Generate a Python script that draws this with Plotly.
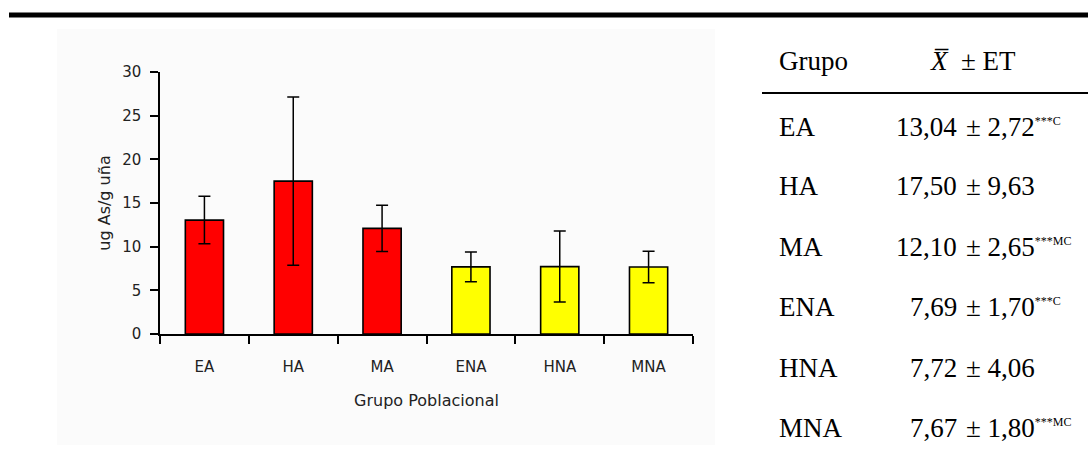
import plotly.graph_objects as go

W, H = 1088, 450

groups = ["EA", "HA", "MA", "ENA", "HNA", "MNA"]
means = [13.04, 17.50, 12.10, 7.69, 7.72, 7.67]
errors = [2.72, 9.63, 2.65, 1.70, 4.06, 1.80]
bar_colors = ["#FF0000", "#FF0000", "#FF0000", "#FFFF00", "#FFFF00", "#FFFF00"]
mean_labels = ["13,04", "17,50", "12,10", "7,69", "7,72", "7,67"]
err_labels = ["2,72", "9,63", "2,65", "1,70", "4,06", "1,80"]
sig_labels = ["***C", "", "***MC", "***C", "", "***MC"]
y_ticks = [0, 5, 10, 15, 20, 25, 30]


def px(x):
    return x / W


def py(y):
    return 1 - y / H


fig = go.Figure()
fig.add_trace(go.Bar(
    x=groups, y=means,
    marker=dict(color=bar_colors, line=dict(color="#000000", width=1.6)),
    width=0.43,
    error_y=dict(type="data", array=errors, visible=True, color="#000000",
                 thickness=1.5, width=6),
    showlegend=False,
))

sans = "DejaVu Sans, Arial, sans-serif"
serif = "Liberation Serif, Times New Roman, serif"

fig.update_layout(
    width=W, height=H,
    margin=dict(l=0, r=0, t=0, b=0, pad=0, autoexpand=False),
    paper_bgcolor="white",
    plot_bgcolor="rgba(0,0,0,0)",
    xaxis=dict(
        domain=[px(160), px(693)],
        type="category",
        automargin=False,
        showline=True, linecolor="#000000", linewidth=1.5,
        ticks="outside", tickson="boundaries", ticklen=8, tickwidth=1.5, tickcolor="#000000",
        tickfont=dict(family=sans, size=15, color="#222222"),
        ticklabelstandoff=18,
        showgrid=False, zeroline=False,
        title=dict(text="Grupo Poblacional", font=dict(family=sans, size=16, color="#222222"),
                   standoff=20),
        anchor="y",
    ),
    yaxis=dict(
        domain=[py(334), py(72)],
        range=[0, 30],
        tickvals=y_ticks,
        automargin=False,
        showline=True, linecolor="#000000", linewidth=1.5,
        ticks="outside", ticklen=8, tickwidth=1.5, tickcolor="#000000",
        tickfont=dict(family=sans, size=15, color="#222222"),
        ticklabelstandoff=6,
        showgrid=False, zeroline=False,
        title=dict(text="ug As/g uña", font=dict(family=sans, size=16, color="#222222"),
                   standoff=8),
    ),
)

shapes = [
    dict(type="rect", xref="paper", yref="paper", x0=px(57), x1=px(715), y0=py(445), y1=py(29),
         fillcolor="#FBFBFB", line=dict(width=0), layer="below"),
    dict(type="rect", xref="paper", yref="paper", x0=px(9), x1=px(1088), y0=py(17.5), y1=py(12.5),
         fillcolor="#000000", line=dict(width=0)),
    dict(type="line", xref="paper", yref="paper", x0=px(762), x1=px(1088), y0=py(93), y1=py(93),
         line=dict(color="#000000", width=2.2)),
]

annotations = []
tfont = dict(family=serif, size=27, color="#000000")
annotations.append(dict(xref="paper", yref="paper", x=px(777), y=py(61), text="Grupo",
                        showarrow=False, xanchor="left", yanchor="middle", font=tfont))
annotations.append(dict(xref="paper", yref="paper", x=px(928), y=py(61),
                        text="<i>X\u0305</i>  ± ET",
                        showarrow=False, xanchor="left", yanchor="middle", font=tfont))

row_y = [127, 186, 247, 307, 368, 428]
for i, g in enumerate(groups):
    annotations.append(dict(xref="paper", yref="paper", x=px(777), y=py(row_y[i]), text=g,
                            showarrow=False, xanchor="left", yanchor="middle", font=tfont))
    annotations.append(dict(xref="paper", yref="paper", x=px(959), y=py(row_y[i]), text=mean_labels[i],
                            showarrow=False, xanchor="right", yanchor="middle", font=tfont))
    txt = "± " + err_labels[i]
    if sig_labels[i]:
        txt += "<sup><span style='font-size:12px'>" + sig_labels[i] + "</span></sup>"
    annotations.append(dict(xref="paper", yref="paper", x=px(964), y=py(row_y[i]), text=txt,
                            showarrow=False, xanchor="left", yanchor="middle", font=tfont))

fig.update_layout(shapes=shapes, annotations=annotations)
fig.write_html(
    "out.html",
    config={"displayModeBar": False},
    post_script="document.body.style.margin='0px';",
)
